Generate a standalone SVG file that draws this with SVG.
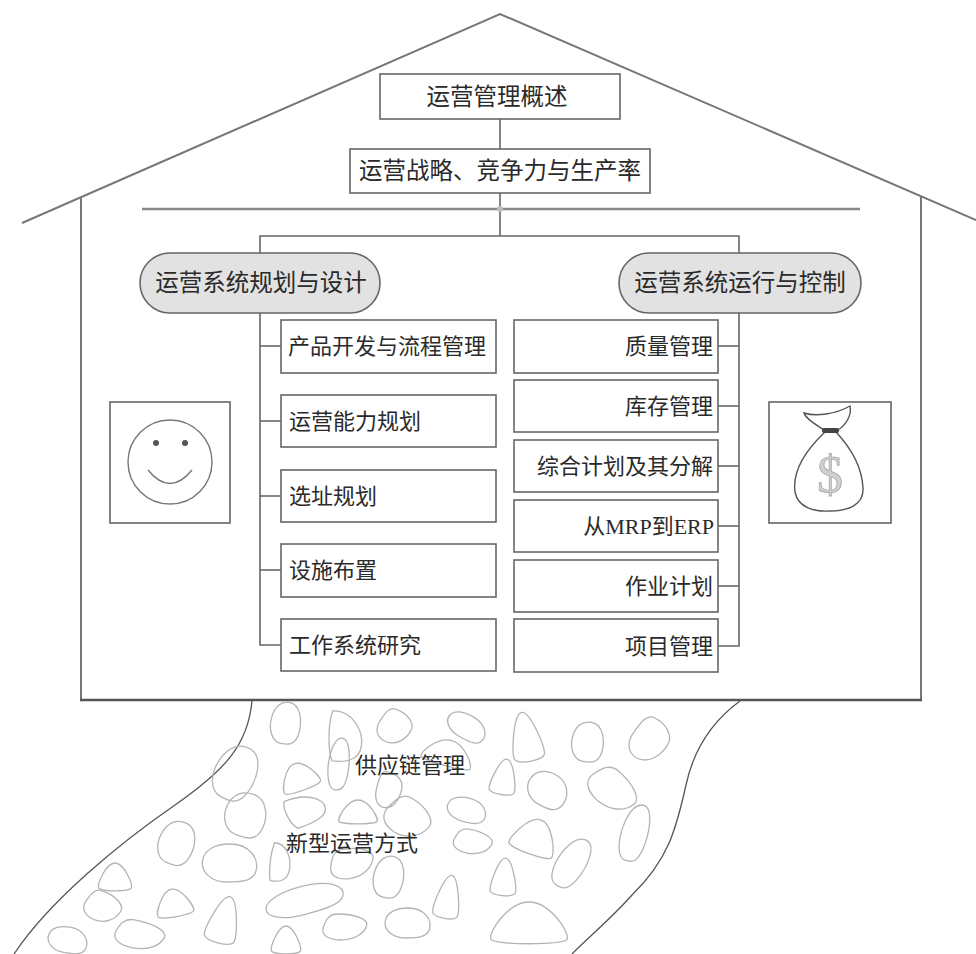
<svg xmlns="http://www.w3.org/2000/svg" xmlns:xlink="http://www.w3.org/1999/xlink" width="976" height="954" viewBox="0 0 976 954">
  <style>
    .house { fill: none; stroke: #777; stroke-width: 2; }
    .box { fill: #fff; stroke: #666; stroke-width: 1.6; }
    .pill { fill: #e2e2e2; stroke: #666; stroke-width: 1.6; }
    .conn { fill: none; stroke: #666; stroke-width: 1.6; }
    .txt { font-family: "Liberation Serif", "Noto Sans CJK SC", serif; fill: #2a2a2a; dominant-baseline: central; }
    .t22 { font-size: 22px; }
    .t23 { font-size: 23.5px; }
    .edge { fill: none; stroke: #555; stroke-width: 1.3; }
    .stone { fill: none; stroke: #b4b4b4; stroke-width: 1.3; }
  </style>
  <defs>
    <path id="sA" vector-effect="non-scaling-stroke" d="M0,-1 C0.5,-1 1,0.5 0.9,0.8 C0.7,1.05 -0.7,1.05 -0.9,0.8 C-1,0.5 -0.5,-1 0,-1 Z"/>
    <path id="sB" vector-effect="non-scaling-stroke" d="M0,-1 C0.7,-1 1,-0.2 0.9,0.4 C0.8,1 0.3,1 -0.1,1 C-0.7,1 -1,0.4 -0.95,-0.1 C-0.9,-0.7 -0.5,-1 0,-1 Z"/>
    <path id="sC" vector-effect="non-scaling-stroke" d="M-0.8,-1 C0.3,-1.1 1,-0.3 0.95,0.3 C0.9,0.9 0.2,1 -0.6,1 C-0.9,0.6 -1,-0.5 -0.8,-1 Z"/>
    <path id="sD" vector-effect="non-scaling-stroke" d="M-0.3,-1 C0.4,-1 1,-0.6 0.9,-0.1 C0.8,0.5 0.4,1 -0.2,1 C-0.8,0.95 -1,0.5 -0.9,0 C-0.8,-0.5 -0.7,-1 -0.3,-1 Z"/>
  </defs>

  <rect width="976" height="954" fill="#fff"/>

  <!-- house outline -->
  <g id="house">
    <polyline class="house" points="22,223 500,14 976,220"/>
    <line class="house" x1="81" y1="197" x2="81" y2="700"/>
    <line class="house" x1="921" y1="196" x2="921" y2="700"/>
    <line x1="80" y1="700" x2="922" y2="700" stroke="#555" stroke-width="2.6"/>
    <line x1="142" y1="209" x2="860" y2="209" stroke="#888" stroke-width="2.4"/>
  </g>

  <!-- connectors -->
  <g id="connectors">
    <line class="conn" x1="500" y1="119" x2="500" y2="149"/>
    <line class="conn" x1="500" y1="193" x2="500" y2="236"/>
    <polyline class="conn" points="260,253 260,236 739,236 739,253"/>
    <polyline class="conn" points="260,313 260,645 281,645"/>
    <line class="conn" x1="260" y1="346" x2="281" y2="346"/>
    <line class="conn" x1="260" y1="421" x2="281" y2="421"/>
    <line class="conn" x1="260" y1="496" x2="281" y2="496"/>
    <line class="conn" x1="260" y1="570" x2="281" y2="570"/>
    <polyline class="conn" points="739,313 739,646 718,646"/>
    <line class="conn" x1="718" y1="346" x2="739" y2="346"/>
    <line class="conn" x1="718" y1="406" x2="739" y2="406"/>
    <line class="conn" x1="718" y1="466" x2="739" y2="466"/>
    <line class="conn" x1="718" y1="526" x2="739" y2="526"/>
    <line class="conn" x1="718" y1="586" x2="739" y2="586"/>
    <circle cx="500" cy="209" r="3" fill="#bbb"/>
  </g>

  <!-- top chapters -->
  <g id="overview">
    <rect class="box" x="380" y="74" width="240" height="45"/>
    <text class="txt t23" x="497" y="97" text-anchor="middle">运营管理概述</text>
  </g>
  <g id="strategy">
    <rect class="box" x="350" y="149" width="300" height="44"/>
    <text class="txt t23" x="500" y="171" text-anchor="middle">运营战略、竞争力与生产率</text>
  </g>

  <!-- section headers -->
  <g id="design">
    <rect class="pill" x="140" y="253" width="240" height="60" rx="30" ry="30"/>
    <text class="txt t23" x="261" y="283" text-anchor="middle">运营系统规划与设计</text>
  </g>
  <g id="operation">
    <rect class="pill" x="619" y="253" width="242" height="60" rx="30" ry="30"/>
    <text class="txt t23" x="740" y="283" text-anchor="middle">运营系统运行与控制</text>
  </g>

  <!-- left column -->
  <g id="product">
    <rect class="box" x="281" y="320" width="215" height="53"/>
    <text class="txt t22" x="288" y="346">产品开发与流程管理</text>
  </g>
  <g id="capacity">
    <rect class="box" x="281" y="395" width="215" height="52"/>
    <text class="txt t22" x="289" y="421">运营能力规划</text>
  </g>
  <g id="location">
    <rect class="box" x="281" y="470" width="215" height="52"/>
    <text class="txt t22" x="289" y="496">选址规划</text>
  </g>
  <g id="layout">
    <rect class="box" x="281" y="544" width="215" height="53"/>
    <text class="txt t22" x="289" y="570">设施布置</text>
  </g>
  <g id="worksystem">
    <rect class="box" x="281" y="619" width="215" height="52"/>
    <text class="txt t22" x="289" y="645">工作系统研究</text>
  </g>

  <!-- right column -->
  <g id="quality">
    <rect class="box" x="514" y="320" width="204" height="53"/>
    <text class="txt t22" x="713" y="346" text-anchor="end">质量管理</text>
  </g>
  <g id="inventory">
    <rect class="box" x="514" y="380" width="204" height="52"/>
    <text class="txt t22" x="713" y="406" text-anchor="end">库存管理</text>
  </g>
  <g id="aggregate">
    <rect class="box" x="514" y="440" width="204" height="52"/>
    <text class="txt t22" x="713" y="466" text-anchor="end">综合计划及其分解</text>
  </g>
  <g id="mrp">
    <rect class="box" x="514" y="500" width="204" height="52"/>
    <text class="txt t22" x="714" y="526" text-anchor="end">从MRP到ERP</text>
  </g>
  <g id="scheduling">
    <rect class="box" x="514" y="560" width="204" height="52"/>
    <text class="txt t22" x="713" y="586" text-anchor="end">作业计划</text>
  </g>
  <g id="project">
    <rect class="box" x="514" y="619" width="204" height="53"/>
    <text class="txt t22" x="713" y="646" text-anchor="end">项目管理</text>
  </g>

  <!-- smiley -->
  <g id="smiley">
    <rect class="box" x="110" y="402" width="120" height="121"/>
    <circle cx="170" cy="462" r="42" fill="none" stroke="#777" stroke-width="1.4"/>
    <circle cx="156" cy="443" r="3" fill="#555"/>
    <circle cx="185" cy="443" r="3" fill="#555"/>
    <path d="M148,470 Q170,497 192,470" fill="none" stroke="#777" stroke-width="1.4"/>
  </g>

  <!-- money bag -->
  <g id="moneybag">
    <rect class="box" x="769" y="402" width="122" height="121"/>
    <path d="M825,432 C806,450 792,470 795,492 C798,508 815,512 830,511 C848,511 864,505 863,488 C862,468 851,448 836,432 Z" fill="#fff" stroke="#555" stroke-width="1.4"/>
    <path d="M824,430 C815,424 806,419 804,413 C816,417 836,414 850,406 C852,415 846,425 838,430" fill="#fff" stroke="#555" stroke-width="1.4"/>
    <rect x="822" y="428" width="17" height="5" rx="2" fill="#444"/>
    <text x="830" y="474" text-anchor="middle" dominant-baseline="central" font-family="Liberation Serif, serif" font-size="52" fill="#d0d0d0" stroke="#a8a8a8" stroke-width="0.8">$</text>
  </g>

  <!-- stone path -->
  <g id="pathway">
    <path class="edge" d="M252,701 C248,745 225,770 175,805 C120,843 50,900 14,954"/>
    <path class="edge" d="M740,701 C714,720 694,748 686,785 C676,830 668,860 632,895 C610,920 585,940 572,954"/>
    <g class="stone">
      <use xlink:href="#sB" transform="translate(286,723) rotate(10) scale(16,21)"/>
      <use xlink:href="#sC" transform="translate(345,737) rotate(5) scale(18,25)"/>
      <use xlink:href="#sD" transform="translate(395,727) rotate(20) scale(18,17)"/>
      <use xlink:href="#sB" transform="translate(467,727) rotate(30) scale(22,12)"/>
      <use xlink:href="#sA" transform="translate(526,737) rotate(-10) scale(17,25)"/>
      <use xlink:href="#sB" transform="translate(588,742) rotate(10) scale(17,20)"/>
      <use xlink:href="#sD" transform="translate(650,740) rotate(25) scale(20,22)"/>
      <use xlink:href="#sA" transform="translate(448,753) rotate(15) scale(28,13)"/>
      <use xlink:href="#sB" transform="translate(236,773) rotate(30) scale(22,28)"/>
      <use xlink:href="#sA" transform="translate(299,777) rotate(-20) scale(21,14)"/>
      <use xlink:href="#sB" transform="translate(339,764) rotate(8) scale(11,26)"/>
      <use xlink:href="#sD" transform="translate(389,790) rotate(5) scale(14,18)"/>
      <use xlink:href="#sA" transform="translate(504,777) rotate(10) scale(14,18)"/>
      <use xlink:href="#sB" transform="translate(548,790) rotate(30) scale(22,17)"/>
      <use xlink:href="#sD" transform="translate(613,790) rotate(40) scale(28,18)"/>
      <use xlink:href="#sB" transform="translate(246,815) rotate(20) scale(22,22)"/>
      <use xlink:href="#sC" transform="translate(305,810) rotate(-20) scale(21,15)"/>
      <use xlink:href="#sA" transform="translate(358,812) rotate(0) scale(21,12)"/>
      <use xlink:href="#sD" transform="translate(408,818) rotate(30) scale(25,19)"/>
      <use xlink:href="#sB" transform="translate(467,810) rotate(15) scale(21,12)"/>
      <use xlink:href="#sA" transform="translate(535,837) rotate(20) scale(25,18)"/>
      <use xlink:href="#sB" transform="translate(635,833) rotate(18) scale(14,29)"/>
      <use xlink:href="#sD" transform="translate(473,842) rotate(10) scale(21,12)"/>
      <use xlink:href="#sB" transform="translate(177,843) rotate(25) scale(19,22)"/>
      <use xlink:href="#sB" transform="translate(230,863) rotate(0) scale(29,19)"/>
      <use xlink:href="#sC" transform="translate(280,863) rotate(10) scale(11,19)"/>
      <use xlink:href="#sD" transform="translate(352,863) rotate(-10) scale(24,15)"/>
      <use xlink:href="#sB" transform="translate(389,877) rotate(15) scale(16,21)"/>
      <use xlink:href="#sA" transform="translate(504,877) rotate(5) scale(14,19)"/>
      <use xlink:href="#sB" transform="translate(572,863) rotate(35) scale(15,27)"/>
      <use xlink:href="#sA" transform="translate(115,877) rotate(0) scale(18,14)"/>
      <use xlink:href="#sD" transform="translate(103,907) rotate(20) scale(20,15)"/>
      <use xlink:href="#sA" transform="translate(174,903) rotate(-10) scale(20,14)"/>
      <use xlink:href="#sA" transform="translate(224,920) rotate(15) scale(17,24)"/>
      <use xlink:href="#sB" transform="translate(305,900) rotate(-15) scale(42,14)"/>
      <use xlink:href="#sA" transform="translate(448,897) rotate(10) scale(14,22)"/>
      <use xlink:href="#sD" transform="translate(345,927) rotate(0) scale(24,13)"/>
      <use xlink:href="#sB" transform="translate(408,923) rotate(0) scale(24,15)"/>
      <use xlink:href="#sA" transform="translate(529,923) rotate(0) scale(42,21)"/>
      <use xlink:href="#sB" transform="translate(68,940) rotate(10) scale(21,13)"/>
      <use xlink:href="#sD" transform="translate(140,935) rotate(10) scale(27,14)"/>
      <use xlink:href="#sA" transform="translate(286,940) rotate(0) scale(16,14)"/>
    </g>
    <text class="txt t22" x="410" y="765" text-anchor="middle">供应链管理</text>
    <text class="txt t22" x="352" y="843" text-anchor="middle">新型运营方式</text>
  </g>
</svg>
